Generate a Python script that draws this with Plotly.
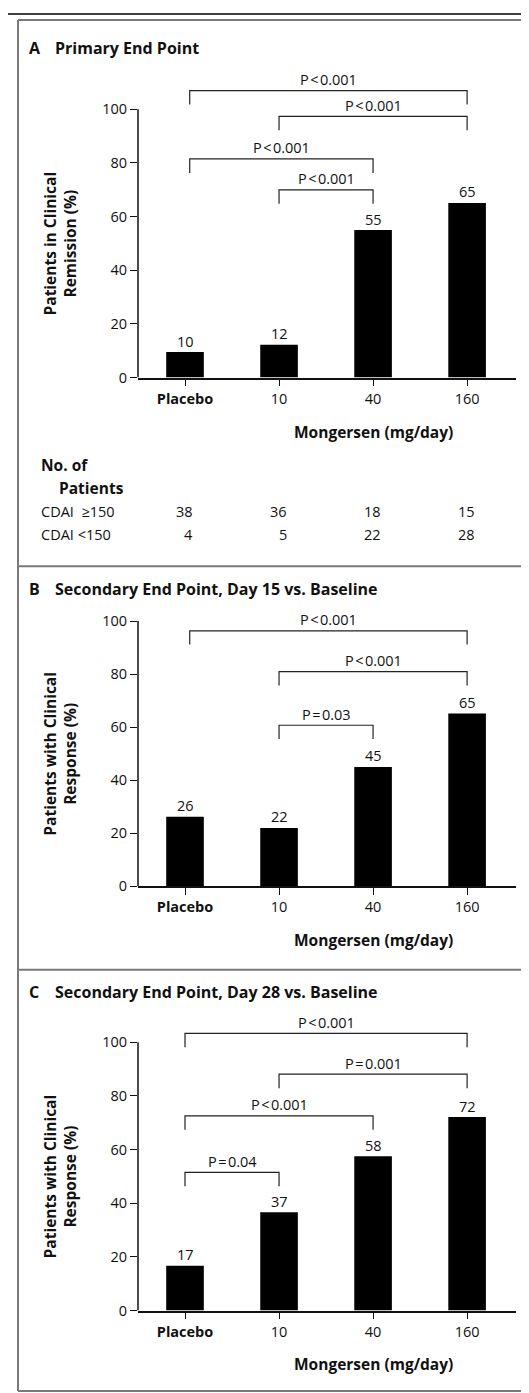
import plotly.graph_objects as go

# ---------------- data ----------------
categories = [0, 1, 2, 3]
tick_labels = ["<b>Placebo</b>", "10", "40", "160"]

remission_A = [9.5, 12.2, 55.0, 65.1]
labels_A = ["10", "12", "55", "65"]
response15_B = [26.2, 22.0, 45.0, 65.1]
labels_B = ["26", "22", "45", "65"]
response28_C = [16.7, 36.6, 57.5, 72.1]
labels_C = ["17", "37", "58", "72"]

LT = "P\u200a&lt;\u200a0.001"
brackets_A_pairs = [(0, 3), (1, 3), (0, 2), (1, 2)]
brackets_A_tops = [107, 97.4, 81.5, 70]
brackets_A_text = [LT, LT, LT, LT]

brackets_B_pairs = [(0, 3), (1, 3), (1, 2)]
brackets_B_tops = [96.3, 80.9, 60.7]
brackets_B_text = [LT, LT, "P\u200a=\u200a0.03"]

brackets_C_pairs = [(0, 3), (1, 3), (0, 2), (0, 1)]
brackets_C_tops = [103.3, 88.1, 72.6, 51.5]
brackets_C_text = [LT, "P\u200a=\u200a0.001", LT, "P\u200a=\u200a0.04"]

patients_row_labels = ["CDAI  \u2265150", "CDAI &lt;150"]
patients_cdai_ge150 = ["38", "36", "18", "15"]
patients_cdai_lt150 = ["4", "5", "22", "28"]

y_ticks = [0, 20, 40, 60, 80, 100]

# ---------------- layout helpers ----------------
W, H = 529, 1393
FONT = "Open Sans"
FS = 14.5      # regular text
BFS = 15.5     # bold labels
TFS = 16       # panel titles
INK = "#111111"
BORDER = "#7a7a7a"


def px(x):
    return x / W


def py(y):
    return 1 - y / H


panels = [
    dict(name="A", title="Primary End Point", vals=remission_A, labels=labels_A,
         pairs=brackets_A_pairs, tops=brackets_A_tops, ptext=brackets_A_text,
         ytitle="<b>Patients in Clinical<br>Remission (%)</b>",
         bottom=372, ppu=2.7, ymax=116, title_y=40, mong_y=427, inset0=0.05),
    dict(name="B", title="Secondary End Point, Day 15 vs. Baseline", vals=response15_B,
         labels=labels_B, pairs=brackets_B_pairs, tops=brackets_B_tops, ptext=brackets_B_text,
         ytitle="<b>Patients with Clinical<br>Response (%)</b>",
         bottom=884, ppu=2.67, ymax=104, title_y=585, mong_y=938, inset0=0.05),
    dict(name="C", title="Secondary End Point, Day 28 vs. Baseline", vals=response28_C,
         labels=labels_C, pairs=brackets_C_pairs, tops=brackets_C_tops, ptext=brackets_C_text,
         ytitle="<b>Patients with Clinical<br>Response (%)</b>",
         bottom=1311, ppu=2.7, ymax=110, title_y=990, mong_y=1365, inset0=0.0),
]

fig = go.Figure()
layout = dict(
    width=W, height=H, margin=dict(l=0, r=0, t=0, b=0),
    paper_bgcolor="white", plot_bgcolor="white", showlegend=False,
    font=dict(family=FONT, size=FS, color=INK),
)
shapes = []
annotations = []

X_LEFT, X_RIGHT = 130, 508
LEG = 5.2

for i, p in enumerate(panels):
    sfx = "" if i == 0 else str(i + 1)
    xa, ya = "x" + sfx, "y" + sfx
    top_px = p["bottom"] - p["ymax"] * p["ppu"]
    fig.add_trace(go.Bar(
        x=categories, y=p["vals"], width=0.4, marker=dict(color="black", line=dict(width=0)),
        text=p["labels"], textposition="none", xaxis=xa, yaxis=ya, hoverinfo="skip",
    ))
    layout["xaxis" + sfx] = dict(
        domain=[px(X_LEFT), px(X_RIGHT)], range=[-0.5, 3.52], anchor=ya,
        tickmode="array", tickvals=categories, ticktext=tick_labels,
        ticks="outside", ticklen=7, tickwidth=1.3, tickcolor=INK,
        showline=True, linewidth=1.5, linecolor=INK, showgrid=False, zeroline=False,
        tickfont=dict(family=FONT, size=FS, color=INK), fixedrange=True,
    )
    layout["yaxis" + sfx] = dict(
        domain=[py(p["bottom"]), py(top_px)], range=[0, p["ymax"]], anchor=xa,
        tickmode="array", tickvals=y_ticks,
        ticks="outside", ticklen=7, tickwidth=1.3, tickcolor=INK,
        showline=False, showgrid=False, zeroline=False,
        tickfont=dict(family=FONT, size=FS, color=INK), fixedrange=True,
    )
    # y axis line from 0 to 100
    shapes.append(dict(type="line", xref=xa + " domain", yref=ya, x0=0, x1=0, y0=0, y1=100,
                       line=dict(color=INK, width=1.5)))
    # value labels
    for c, v, t in zip(categories, p["vals"], p["labels"]):
        annotations.append(dict(x=c, y=v, xref=xa, yref=ya, text=t, showarrow=False,
                                yanchor="middle", yshift=11, font=dict(size=FS, color=INK)))
    # brackets
    for (a, b), top, txt in zip(p["pairs"], p["tops"], p["ptext"]):
        xa0 = a + (p["inset0"] if a == 0 else 0)
        shapes.append(dict(type="path", xref=xa, yref=ya,
                           path=f"M {xa0},{top - LEG} L {xa0},{top} L {b},{top} L {b},{top - LEG}",
                           line=dict(color="#222222", width=1.2)))
        annotations.append(dict(x=(xa0 + b) / 2, y=top, xref=xa, yref=ya, text=txt,
                                showarrow=False, yanchor="middle", yshift=11,
                                font=dict(size=FS, color=INK)))
    # y title
    annotations.append(dict(x=px(52), y=py((p["bottom"] + p["bottom"] - 100 * p["ppu"]) / 2),
                            xref="paper", yref="paper", text=p["ytitle"], textangle=-90,
                            showarrow=False, xanchor="center", yanchor="middle",
                            font=dict(size=BFS, color=INK)))
    # x title
    annotations.append(dict(x=2, y=py(p["mong_y"]), xref=xa, yref="paper",
                            text="<b>Mongersen (mg/day)</b>", showarrow=False,
                            xanchor="center", yanchor="middle", font=dict(size=BFS, color=INK)))
    # panel title
    annotations.append(dict(x=px(19), y=py(p["title_y"]), xref="paper", yref="paper",
                            text=f"<b>{p['name']}</b>", showarrow=False, xanchor="left",
                            yanchor="middle", font=dict(size=TFS, color=INK)))
    annotations.append(dict(x=px(45), y=py(p["title_y"]), xref="paper", yref="paper",
                            text=f"<b>{p['title']}</b>", showarrow=False, xanchor="left",
                            yanchor="middle", font=dict(size=TFS, color=INK)))

# No. of patients table (panel A)
annotations.append(dict(x=px(31), y=py(460), xref="paper", yref="paper", text="<b>No. of</b>",
                        showarrow=False, xanchor="left", yanchor="middle", font=dict(size=BFS)))
annotations.append(dict(x=px(49), y=py(483), xref="paper", yref="paper", text="<b>Patients</b>",
                        showarrow=False, xanchor="left", yanchor="middle", font=dict(size=BFS)))
for row_y, row_label, row_vals in [(507, patients_row_labels[0], patients_cdai_ge150),
                                   (530, patients_row_labels[1], patients_cdai_lt150)]:
    annotations.append(dict(x=px(31), y=py(row_y), xref="paper", yref="paper", text=row_label,
                            showarrow=False, xanchor="left", yanchor="middle", font=dict(size=FS)))
    for c, v in zip(categories, row_vals):
        annotations.append(dict(x=c, y=py(row_y), xref="x", yref="paper", text=v,
                                showarrow=False, xanchor="right", xshift=10, yanchor="middle",
                                font=dict(size=FS)))

# frame lines
shapes.append(dict(type="line", xref="paper", yref="paper", x0=0, x1=1, y0=py(6), y1=py(6),
                   line=dict(color="black", width=1.6)))
for yy in [12, 562, 968, 1392]:
    shapes.append(dict(type="line", xref="paper", yref="paper", x0=px(10), x1=1,
                       y0=py(yy), y1=py(yy), line=dict(color=BORDER, width=2)))
shapes.append(dict(type="line", xref="paper", yref="paper", x0=px(10), x1=px(10),
                   y0=py(12), y1=py(1392), line=dict(color=BORDER, width=2)))

layout["shapes"] = shapes
layout["annotations"] = annotations
fig.update_layout(**layout)
fig.write_html("out.html")
